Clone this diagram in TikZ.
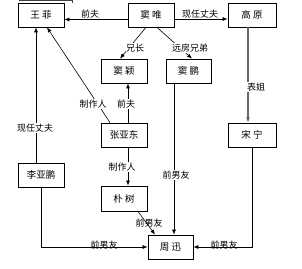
\documentclass[tikz,border=0pt]{standalone}
\usepackage{fontspec}
\setmainfont{Noto Sans CJK SC}
\usetikzlibrary{arrows.meta}
\tikzset{
  box/.style={draw, line width=0.8pt, minimum width=46pt, minimum height=24pt, inner sep=0pt, font=\fontsize{9.5}{10}\selectfont},
  lbl/.style={fill=white, inner sep=0.5pt, font=\fontsize{9}{10}\selectfont},
  arr/.style={draw, line width=0.6pt, -{Latex[length=5pt,width=4pt]}},
}
\begin{document}
\begin{tikzpicture}[x=1pt,y=-1pt]
\useasboundingbox (0,0) rectangle (302,268);
\draw[line width=1pt, black!75] (19,0.5) -- (72,0.5) -- (72,2.5);
\node[box] (wf) at (41,15) {王\ 菲};
\node[box] (dw) at (151,15) {窦\ 唯};
\node[box, minimum width=48pt] (gy) at (252,15) {高\ 原};
\node[box] (dy) at (124,71) {窦\ 颖};
\node[box, minimum width=45pt] (dp) at (188.5,71) {窦\ 鹏};
\node[box] (zyd) at (124,135) {张亚东};
\node[box, minimum width=48pt] (sn) at (252,135) {宋\ 宁};
\node[box] (lyp) at (41,175) {李亚鹏};
\node[box, minimum height=25pt] (ps) at (124,198.5) {朴\ 树};
\node[box, minimum width=45pt] (zx) at (170.5,247) {周\ 迅};

\draw[arr] ([yshift=-4.5pt]dw.west) -- ([yshift=-4.5pt]wf.east);
\draw[arr] ([yshift=-4pt]dw.east) -- ([yshift=-4pt]gy.west);
\draw[arr] ([xshift=-5pt]dw.south) -- ([xshift=-4pt]dy.north);
\draw[arr] ([xshift=6pt]dw.south) -- ([xshift=3.5pt]dp.north);
\draw[arr, line width=1.3pt, black!60] ([xshift=-4pt]gy.south) -- ([xshift=-4pt]sn.north);
\draw[arr] ([xshift=4pt]zyd.north) -- ([xshift=4pt]dy.south);
\draw[arr] ([xshift=-14pt]zyd.north) -- ([xshift=6pt]wf.south);
\draw[arr] ([xshift=-5pt]lyp.north) -- ([xshift=-5pt]wf.south);
\draw[arr] ([xshift=4pt]zyd.south) -- ([xshift=4pt]ps.north);
\draw[arr] ([xshift=14pt]ps.south) -- ([xshift=-15.5pt]zx.north);
\draw[arr] ([xshift=-14.5pt]dp.south) -- ([xshift=3.5pt]zx.north);
\draw[arr] (lyp.south) |- (zx.west);
\draw[arr] (sn.south) |- (zx.east);

\node[lbl] (l1) at (90,14.5) {前夫};
\node[lbl] (l2) at (200,14.5) {现任丈夫};
\node[lbl] (l3) at (135,48) {兄长};
\node[lbl] (l4) at (190,48) {远房兄弟};
\node[lbl] (l5) at (256,87) {表姐};
\node[lbl] (l6) at (126,104) {前夫};
\node[lbl] (l7) at (93,104) {制作人};
\node[lbl] (l8) at (35,128) {现任丈夫};
\node[lbl] (l9) at (122,167) {制作人};
\node[lbl] (l10) at (176,175) {前男友};
\node[lbl, fill=none] (l11) at (149,223) {前男友};
\node[lbl, fill=none] (l12) at (104,245) {前男友};
\node[lbl, fill=none] (l13) at (224,245) {前男友};
\end{tikzpicture}
\end{document}
